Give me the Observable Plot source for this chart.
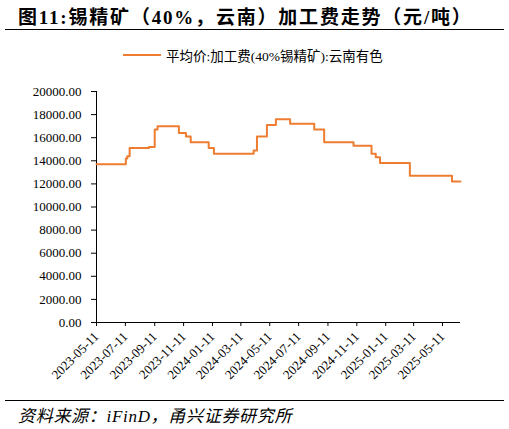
<!DOCTYPE html>
<html lang="zh">
<head>
<meta charset="UTF-8">
<title>锡精矿加工费走势</title>
<script src="https://cdn.jsdelivr.net/npm/d3@7"></script>
<script src="https://cdn.jsdelivr.net/npm/@observablehq/plot@0.6"></script>
<style>
  body { margin: 0; background: #fff; width: 509px; height: 429px; position: relative; overflow: hidden;
         font-family: "Liberation Serif", "Noto Sans CJK SC", serif; color: #000; }
  #titre { position: absolute; left: 18px; top: 2px; font-size: 19px; letter-spacing: 1.8px; font-weight: bold; white-space: nowrap; }
  #trait1 { position: absolute; left: 5px; top: 29px; width: 499px; border-top: 1px solid #000; }
  #legende { position: absolute; left: 123px; top: 45px; font-size: 13.5px; display: flex; align-items: center; white-space: nowrap; }
  #legende span.ligne { display: inline-block; width: 38px; height: 2px; background: #ED7D31; margin-right: 5px; }
  #graph { position: absolute; left: 0; top: 70px; }
  #trait2 { position: absolute; left: 5px; top: 400px; width: 499px; border-top: 1px solid #000; }
  #source { position: absolute; left: 18px; top: 402px; font-size: 17px; letter-spacing: 0.7px; font-style: italic; white-space: nowrap; }
</style>
</head>
<body>
<div id="titre">图11:锡精矿（40%，云南）加工费走势（元/吨）</div>
<div id="trait1"></div>
<div id="legende"><span class="ligne"></span>平均价:加工费(40%锡精矿):云南有色</div>
<div id="graph"></div>
<div id="trait2"></div>
<div id="source">资料来源：iFinD，甬兴证券研究所</div>

<script>
// dates des changements de niveau
const dates = [
  "2023-05-11", "2023-07-12", "2023-07-15", "2023-07-20", "2023-08-30",
  "2023-09-11", "2023-09-17", "2023-11-01", "2023-11-16", "2023-11-26",
  "2024-01-03", "2024-01-14", "2024-04-07", "2024-04-14", "2024-05-05",
  "2024-05-24", "2024-06-23", "2024-08-13", "2024-09-03", "2024-11-04",
  "2024-12-12", "2024-12-21", "2024-12-30", "2025-03-03", "2025-05-31",
  "2025-06-18"
];
// 加工费 (元/吨)
const valeurs = [
  13700, 14200, 14400, 15100, 15200,
  16700, 17000, 16400, 16100, 15600,
  15100, 14600, 14900, 16100, 17100,
  17600, 17200, 16700, 15600, 15300,
  14600, 14300, 13800, 12700, 12200,
  12200
];
const ticksX = [
  "2023-05-11", "2023-07-11", "2023-09-11", "2023-11-11", "2024-01-11",
  "2024-03-11", "2024-05-11", "2024-07-11", "2024-09-11", "2024-11-11",
  "2025-01-11", "2025-03-11", "2025-05-11"
];
const ticksY = [0, 2000, 4000, 6000, 8000, 10000, 12000, 14000, 16000, 18000, 20000];

const data = dates.map((d, i) => ({date: new Date(d), valeur: valeurs[i]}));
const debut = new Date(dates[0]);
const fin = new Date(dates[dates.length - 1]);

const chart = Plot.plot({
  width: 509,
  height: 340,
  marginTop: 21,
  marginBottom: 88,
  marginLeft: 96,
  marginRight: 49,
  style: {fontFamily: "'Liberation Serif', serif", fontSize: "13px", color: "#000", background: "#fff"},
  x: {type: "utc", domain: [debut, fin]},
  y: {domain: [0, 20000]},
  marks: [
    Plot.axisY({ticks: ticksY, tickFormat: d => d.toFixed(2), tickSize: 5, tickPadding: 10,
      fontSize: 13, label: null}),
    Plot.axisX({ticks: ticksX.map(d => new Date(d)), tickFormat: d3.utcFormat("%Y-%m-%d"),
      tickRotate: -45, tickSize: 4, tickPadding: 8, fontSize: 13, label: null}),
    Plot.ruleX([debut], {stroke: "#000"}),
    Plot.ruleY([0], {stroke: "#000"}),
    Plot.line(data, {x: "date", y: "valeur", curve: "step-after", stroke: "#ED7D31", strokeWidth: 2})
  ]
});

document.getElementById("graph").appendChild(chart);
</script>
</body>
</html>
